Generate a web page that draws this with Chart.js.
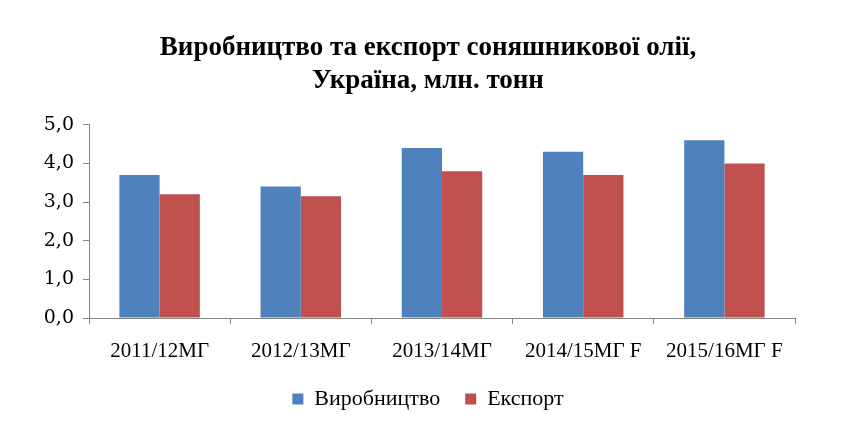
<!DOCTYPE html>
<html>
<head>
<meta charset="utf-8">
<script src="https://cdn.jsdelivr.net/npm/chart.js@4"></script>
<style>
html,body{margin:0;padding:0;background:#fff;}
#wrap{width:856px;height:425px;}
</style>
</head>
<body>
<div id="wrap"><canvas id="c" width="856" height="425"></canvas></div>
<script>
const categories = ["2011/12МГ", "2012/13МГ", "2013/14МГ", "2014/15МГ F", "2015/16МГ F"];
const production = [3.7, 3.4, 4.4, 4.3, 4.6];
const exportVals = [3.2, 3.15, 3.8, 3.7, 4.0];
const seriesNames = ["Виробництво", "Експорт"];
const titleLines = ["Виробництво та експорт соняшникової олії,", "Україна, млн. тонн"];
const yTicks = [0, 1, 2, 3, 4, 5];

const axisColor = "#868686";
new Chart(document.getElementById("c"), {
  type: "bar",
  data: {
    labels: categories,
    datasets: [
      { label: seriesNames[0], data: production, backgroundColor: "#4F81BD", categoryPercentage: 0.57, barPercentage: 1.0 },
      { label: seriesNames[1], data: exportVals, backgroundColor: "#C0504D", categoryPercentage: 0.57, barPercentage: 1.0 }
    ]
  },
  options: {
    responsive: false,
    animation: false,
    devicePixelRatio: 1,
    layout: { padding: { left: 0, right: 0, top: 32, bottom: 7 } },
    plugins: {
      title: {
        display: true,
        text: titleLines,
        font: { family: "'Liberation Serif'", size: 27, weight: "bold" },
        color: "#000",
        lineHeight: 1.11,
        padding: { top: 0, bottom: 28 }
      },
      legend: {
        position: "bottom",
        maxHeight: 55,
        labels: {
          font: { family: "'Liberation Serif'", size: 22 },
          color: "#000",
          boxWidth: 11,
          boxHeight: 11,
          padding: 25
        }
      },
      tooltip: { enabled: false }
    },
    scales: {
      x: {
        afterFit: (axis) => { axis.height = 45; },
        grid: { display: true, drawOnChartArea: false, drawTicks: true, tickLength: 6, color: axisColor, offset: true },
        border: { display: true, color: axisColor },
        ticks: { font: { family: "'Liberation Serif'", size: 21, lineHeight: 1.0 }, color: "#000", padding: 17, maxRotation: 0 }
      },
      y: {
        min: 0, max: 5,
        afterBuildTicks: (axis) => { axis.ticks = yTicks.map(v => ({ value: v })); },
        afterFit: (axis) => { axis.width = 89; },
        grid: { display: true, drawOnChartArea: false, drawTicks: true, tickLength: 6, color: axisColor },
        border: { display: true, color: axisColor },
        ticks: {
          font: { family: "'DejaVu Serif'", size: 19 },
          color: "#000",
          padding: 9,
          callback: (v) => Number(v).toFixed(1).replace(".", ",")
        }
      },
      yRight: {
        position: "right",
        display: true,
        min: 0, max: 5,
        afterFit: (axis) => { axis.width = 61; },
        grid: { display: false, drawTicks: false },
        border: { display: false },
        ticks: { display: false }
      }
    }
  }
});
</script>
</body>
</html>
